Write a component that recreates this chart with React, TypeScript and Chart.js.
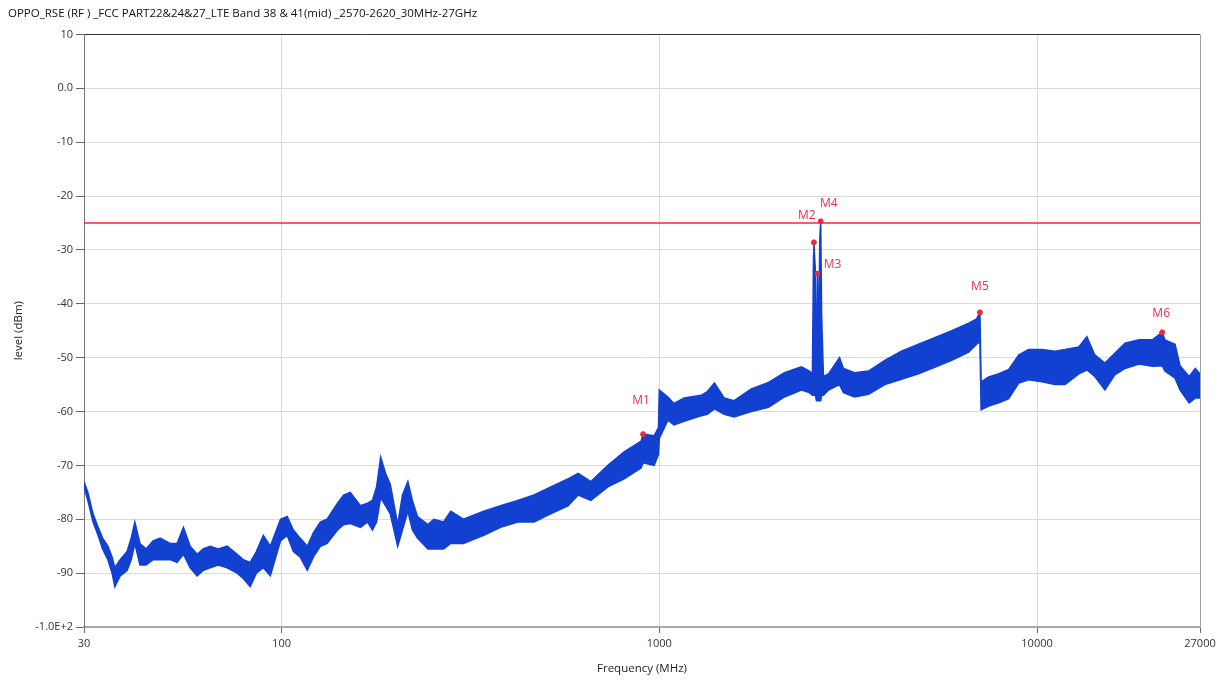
import React, { useEffect, useRef } from "react";
import { Chart, registerables } from "chart.js";

Chart.register(...registerables);

const TITLE = "OPPO_RSE (RF ) _FCC PART22&24&27_LTE Band 38 & 41(mid) _2570-2620_30MHz-27GHz";
const X_TITLE = "Frequency (MHz)";
const Y_TITLE = "level (dBm)";

// Measured trace: frequency (MHz) with upper / lower envelope of the noisy sweep (dBm)
const freqMHz = [
  30, 30.7, 31.7, 32.7, 33.6, 34.7, 35.6, 36.2, 37.4, 39.0, 40, 40.9, 42.2, 43.8, 45.7, 47.7,
  50.7, 52.9, 55, 57.3, 59.8, 62, 64.7, 68, 71.8, 76.3, 79.2, 82.6, 85.8, 89.5, 93.4, 99.4,
  103.5, 107.5, 112, 117, 121.5, 126.8, 132, 140.7, 146, 152, 161.8, 168.9, 174, 178.5, 183,
  188.6, 194, 203, 209, 216, 222, 229, 244, 253, 268.5, 280.5, 303, 343, 380, 422, 466, 516,
  573, 610, 659, 731, 807, 895, 906, 969, 995, 1000, 1054, 1094, 1163, 1291, 1340, 1400, 1486,
  1578, 1752, 1946, 2144, 2377, 2497, 2543, 2560, 2566, 2590, 2606, 2624, 2640, 2660, 2675,
  2690, 2720, 2805, 3000, 3073, 3289, 3581, 3953, 4375, 4855, 5358, 5945, 6592, 6920, 7060,
  7110, 7450, 7925, 8414, 8950, 9500, 10300, 11150, 11860, 12900, 13550, 14220, 15130, 16060,
  17100, 18630, 20200, 21440, 21800, 23190, 23900, 25270, 26230, 27000,
];
const upperDbm = [
  -73, -75, -79, -81.5, -83.5, -85, -87, -89, -87.5, -86, -83.5, -80.5, -84.5, -85.5, -84, -83.5,
  -84.5, -84.5, -81.5, -85, -86.5, -85.5, -85, -85.5, -85, -86.5, -87.5, -88, -86, -83, -85, -80,
  -79.5, -82, -83.5, -85, -82.5, -80.5, -80, -77, -75.5, -75, -77.5, -77, -76.5, -74, -68.5,
  -71.5, -73.5, -81, -75.5, -73, -76.5, -79.5, -81, -80, -80.5, -78.5, -80, -78.5, -77.5, -76.5, -75.5, -74,
  -72.5, -71.5, -73, -70, -67.5, -65.5, -64.2, -64.5, -63, -56, -57.3, -58.5, -57.5, -57, -56.3, -54.7, -57.5,
  -58, -55.8, -54.6, -52.8, -51.7, -52.5, -53, -31, -28.6, -34, -56, -34.4, -50, -28, -24.7,
  -42, -53.5, -53, -50, -52, -52.8, -52.5, -50.5, -48.8, -47.5, -46.3, -45, -43.6, -42.8, -41.6,
  -54.5, -53.6, -53, -52.2, -49.5, -48.5, -48.5, -48.8, -48.5, -48, -46.1, -49.5, -51, -49.2,
  -47.3, -46.7, -46.7, -45.3, -46.7, -47.5, -51.5, -53.5, -52, -53,
];
const lowerDbm = [
  -74, -76.5, -80.5, -83, -85.5, -87.5, -90, -92.5, -90.5, -89.5, -87.5, -84.5, -88.5, -88.5, -87.5, -87.5,
  -87.5, -88, -86.5, -89, -90.5, -89.5, -89, -88.5, -89, -90, -91, -92.5, -90, -89, -90.5, -84,
  -83, -86, -87, -89.5, -87, -85, -84.5, -82, -81, -80.8, -81.5, -80.5, -82, -80.5, -76,
  -77.5, -79, -85, -82, -78.5, -82, -83.5, -85.5, -85.5, -85.5, -84.5, -84.5, -83, -81.5, -80.5, -80.5, -79,
  -77.5, -75.5, -76.5, -74, -72.5, -70.5, -69.5, -70, -68, -65, -61.6, -62.5, -61.8, -60.8, -60.5, -59.5, -60.5,
  -61, -60, -59.2, -57.3, -56, -56.5, -57, -57, -57, -57, -58, -58, -58, -58, -58,
  -57, -57, -56, -55, -56.5, -57.3, -56.8, -55, -54, -53, -51.8, -50.5, -49, -47.5, -47,
  -59.7, -59, -58.4, -57.6, -54.7, -54.1, -54.5, -55, -55, -53, -52.3, -53.5, -56, -53.2,
  -52, -51.2, -51.6, -51.5, -52.5, -53.8, -56, -58.4, -57.5, -57.5,
];

const limitFreq = [30, 27000];
const limitDbm = [-25, -25];

const markerNames = ["M1", "M2", "M3", "M4", "M5", "M6"];
const markerFreq = [906, 2566, 2624, 2675, 7060, 21440];
const markerDbm = [-64.2, -28.6, -34.4, -24.7, -41.6, -45.3];

const xTickValues = [30, 100, 1000, 10000, 27000];
const yTickValues = [10, 0, -10, -20, -30, -40, -50, -60, -70, -80, -90, -100];
const yTickLabels = ["10", "0.0", "-10", "-20", "-30", "-40", "-50", "-60", "-70", "-80", "-90", "-1.0E+2"];

// label placement relative to each marker dot (pixels) — layout only
const markerLabelOffsets = [
  [-2, -34],
  [-7, -27],
  [15, -9],
  [8, -18],
  [0, -26],
  [-1, -19],
];

const TRACE = "#1241d2";
const RED = "#ee2a3a";
const FONT = "'Open Sans', 'Liberation Sans', sans-serif";

const markerLabelPlugin = {
  id: "markerLabels",
  afterDatasetsDraw(chart: any) {
    const { ctx, scales } = chart;
    ctx.save();
    ctx.fillStyle = "#e8304e";
    ctx.font = `12px ${FONT}`;
    ctx.textAlign = "center";
    ctx.textBaseline = "middle";
    markerNames.forEach((name, i) => {
      const x = scales.x.getPixelForValue(markerFreq[i]);
      const y = scales.y.getPixelForValue(markerDbm[i]);
      ctx.fillText(name, x + markerLabelOffsets[i][0], y + markerLabelOffsets[i][1]);
    });
    ctx.restore();
  },
};

export default function App() {
  const ref = useRef<HTMLCanvasElement | null>(null);

  useEffect(() => {
    if (!ref.current) return;
    const upper = freqMHz.map((f, i) => ({ x: f, y: upperDbm[i] }));
    const lower = freqMHz.map((f, i) => ({ x: f, y: lowerDbm[i] }));
    const limit = limitFreq.map((f, i) => ({ x: f, y: limitDbm[i] }));
    const markers = markerFreq.map((f, i) => ({ x: f, y: markerDbm[i] }));

    const chart = new Chart(ref.current, {
      type: "line",
      data: {
        datasets: [
          {
            label: "limit",
            data: limit,
            borderColor: RED,
            borderWidth: 1.5,
            pointRadius: 0,
            fill: false,
            order: 3,
          },
          {
            label: "upper",
            data: upper,
            borderColor: TRACE,
            borderWidth: 1.5,
            pointRadius: 0,
            fill: false,
            tension: 0,
            order: 2,
          },
          {
            label: "lower",
            data: lower,
            borderColor: TRACE,
            backgroundColor: TRACE,
            borderWidth: 1.5,
            pointRadius: 0,
            fill: "-1",
            tension: 0,
            order: 2,
          },
          {
            label: "markers",
            data: markers,
            showLine: false,
            pointRadius: 2.5,
            pointBackgroundColor: RED,
            pointBorderColor: RED,
            borderColor: RED,
            order: 0,
          },
        ],
      },
      options: {
        animation: false,
        responsive: false,
        devicePixelRatio: 1,
        layout: { padding: { left: 8, right: 27, top: 0, bottom: 0 } },
        plugins: {
          legend: { display: false },
          tooltip: { enabled: false },
          title: {
            display: true,
            text: TITLE,
            align: "start",
            color: "#111",
            font: { family: FONT, size: 11.5, weight: "normal" },
            padding: { top: 7, bottom: 13.6 },
          },
        },
        scales: {
          x: {
            type: "logarithmic",
            min: 30,
            max: 27000,
            afterBuildTicks: (scale: any) => {
              scale.ticks = xTickValues.map((v) => ({ value: v }));
            },
            afterFit: (scale: any) => {
              scale.height = 57;
            },
            ticks: {
              autoSkip: false,
              maxRotation: 0,
              color: "#333",
              font: { family: FONT, size: 11 },
              padding: 4,
              callback: (v: any) => String(v),
            },
            grid: {
              color: (c: any) => (c.tick && c.tick.value === 27000 ? "#a0a0a0" : "#dadada"),
              tickColor: "#666",
              tickLength: 6,
              lineWidth: 1,
            },
            border: { color: "#a8a8a8", width: 2 },
            title: {
              display: true,
              text: X_TITLE,
              color: "#222",
              font: { family: FONT, size: 11.5 },
              padding: { top: 0, bottom: 8 },
            },
          },
          y: {
            min: -100,
            max: 10,
            afterBuildTicks: (scale: any) => {
              scale.ticks = yTickValues.map((v) => ({ value: v }));
            },
            afterFit: (scale: any) => {
              scale.width = 76;
            },
            ticks: {
              color: "#333",
              font: { family: FONT, size: 11 },
              padding: 3,
              callback: (v: any) => {
                const idx = yTickValues.indexOf(Number(v));
                return idx >= 0 ? yTickLabels[idx] : "";
              },
            },
            grid: {
              color: (c: any) => (c.tick && c.tick.value === 10 ? "#333" : "#dadada"),
              tickColor: "#666",
              tickLength: 8,
              lineWidth: 1,
            },
            border: { color: "#777", width: 1 },
            title: {
              display: true,
              text: Y_TITLE,
              color: "#222",
              font: { family: FONT, size: 11.5 },
              padding: { top: 4, bottom: 4 },
            },
          },
        },
      },
      plugins: [markerLabelPlugin],
    });
    return () => chart.destroy();
  }, []);

  return (
    <div style={{ position: "fixed", left: 0, top: 0, width: 1227, height: 684, background: "#fff" }}>
      <canvas ref={ref} width={1227} height={684} />
    </div>
  );
}
